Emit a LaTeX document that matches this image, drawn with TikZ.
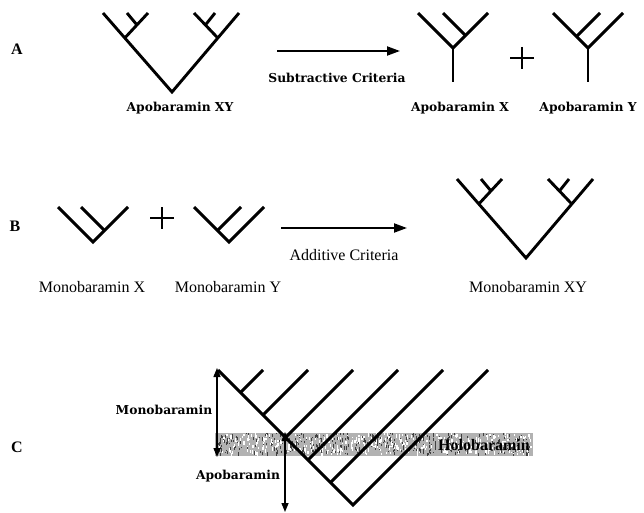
\documentclass[tikz,border=0pt]{standalone}
\usepackage{fontspec}
\setmainfont{Liberation Serif}
\newfontfamily\labfont{DejaVu Serif}
\usetikzlibrary{arrows.meta}

\tikzset{
  treeline/.style={line width=2.9pt, line join=miter},
  flowarrow/.style={line width=2pt, -{Triangle[length=13pt,width=9pt]}},
  plusmark/.style={line width=2pt},
  spanarrow/.style={line width=1.4pt,
    {Triangle[length=9pt,width=7pt]}-{Triangle[length=9pt,width=7pt]}},
  lab/.style={font=\labfont\bfseries\fontsize{12.3}{15}\selectfont, inner sep=0pt},
  blab/.style={font=\fontsize{16}{18}\selectfont, inner sep=0pt},
  rowlab/.style={font=\bfseries\fontsize{16}{18}\selectfont, inner sep=0pt},
  % two-level tree with four terminal pairs, origin at its left tip
  bigtree/.pic={
    \draw[treeline] (0,0) -- (69,79) -- (136,0);
    \draw[treeline] (21.8,25) -- (45,0);
    \draw[treeline] (24,0) -- (34,12);
    \draw[treeline] (114.8,25) -- (91,0);
    \draw[treeline] (112,0) -- (102.4,12);
  },
  plussign/.pic={
    \draw[plusmark] (-12,0) -- (12,0);
    \draw[plusmark] (0,-11) -- (0,11);
  }
}

\begin{document}
\begin{tikzpicture}[x=1pt,y=-1pt]
\useasboundingbox (0,0) rectangle (644,513);

% ---------------- row A ----------------
\node[rowlab] (rowA) at (17,49) {A};
\pic at (103,13) {bigtree};
\node[lab] (apoXY) at (180,108) {Apobaramin XY};

\coordinate (subS) at (277,51);
\coordinate (subE) at (400,51);
\draw[flowarrow] (subS) -- (subE);
\node[lab] (subLab) at (337,78) {Subtractive Criteria};

% Apobaramin X
\draw[treeline] (418,13) -- (453,48) -- (488,13);
\draw[treeline] (443,13) -- (465.5,35.5);
\draw[treeline] (453,48) -- (453,82);
\node[lab] (apoX) at (460,108) {Apobaramin X};

\pic at (522,58) {plussign};

% Apobaramin Y
\draw[treeline] (553,13) -- (588,48) -- (623,13);
\draw[treeline] (600,13) -- (576.5,36.5);
\draw[treeline] (588,48) -- (588,82);
\node[lab] (apoY) at (588,108) {Apobaramin Y};

% ---------------- row B ----------------
\node[rowlab] (rowB) at (15,226) {B};

% Monobaramin X
\draw[treeline] (58,207) -- (93,242) -- (128,207);
\draw[treeline] (81,207) -- (104.5,230.5);
\node[blab] (monoX) at (92,287) {Monobaramin X};

\pic at (162,218) {plussign};

% Monobaramin Y
\draw[treeline] (194,207) -- (229,242) -- (264,207);
\draw[treeline] (241,207) -- (217.5,230.5);
\node[blab] (monoY) at (228,287) {Monobaramin Y};

\coordinate (addS) at (281,228);
\coordinate (addE) at (407,228);
\draw[flowarrow] (addS) -- (addE);
\node[blab] (addLab) at (344,255) {Additive Criteria};

\pic at (457,179) {bigtree};
\node[blab] (monoXY) at (528,287) {Monobaramin XY};

% ---------------- row C ----------------
\node[rowlab] (rowC) at (17,447) {C};

% holobaramin band: grey screen with speckle
\fill[black!30] (215,433) rectangle (533,456);
\pgfmathsetseed{11}
\foreach \i in {1,...,420}{
  \pgfmathsetmacro\px{215+316*rnd}
  \pgfmathsetmacro\py{433+20*rnd}
  \pgfmathsetmacro\ph{1+3*rnd}
  \fill[black!75] (\px,\py) rectangle ++(1,\ph);
}
\foreach \i in {1,...,380}{
  \pgfmathsetmacro\px{215+316*rnd}
  \pgfmathsetmacro\py{433+20*rnd}
  \pgfmathsetmacro\ph{1+3*rnd}
  \fill[white] (\px,\py) rectangle ++(1.2,\ph);
}

% comb-shaped tree
\draw[treeline] (218,370) -- (353,505) -- (488,370);
\foreach \k in {1,...,5}{
  \draw[treeline] ({218+22.5*\k},{370+22.5*\k}) -- ({218+45*\k},370);
}

\node[font=\bfseries\fontsize{16}{18}\selectfont, inner sep=0pt, anchor=east]
  (holo) at (530,445) {Holobaramin};

\coordinate (monoTop) at (217,368);
\coordinate (monoBot) at (217,457);
\draw[spanarrow] (monoTop) -- (monoBot);
\node[lab] (monoLab) at (164,410) {Monobaramin};

\coordinate (apoTop) at (285,432);
\coordinate (apoBot) at (285,512);
\draw[spanarrow] (apoTop) -- (apoBot);
\node[lab] (apoLab) at (238,476) {Apobaramin};
\end{tikzpicture}
\end{document}
